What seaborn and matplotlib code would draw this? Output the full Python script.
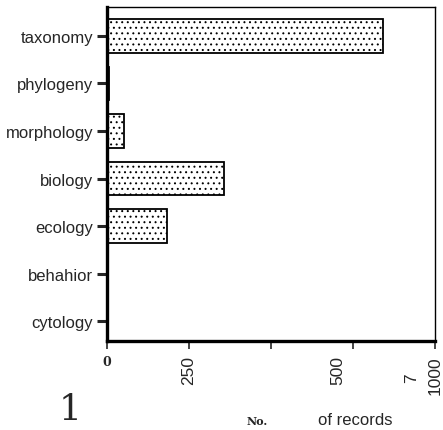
import matplotlib
matplotlib.use("Agg")
import matplotlib.pyplot as plt
import matplotlib.transforms as mtransforms
import seaborn as sns
import pandas as pd

categories = ["taxonomy", "phylogeny", "morphology", "biology", "ecology", "behahior", "cytology"]
records = [841, 6, 52, 357, 183, 0, 0]
x_ticks = [0, 250, 500, 750, 1000]
x_tick_labels = ["0", "250", "", "500", "1000"]

sns.set_style("white")
plt.rcParams["font.family"] = ["Liberation Sans", "DejaVu Sans"]
plt.rcParams["hatch.linewidth"] = 0.7

df = pd.DataFrame({"topic": categories, "records": records})

fig = plt.figure(figsize=(4.43, 4.31), dpi=100)
ax = fig.add_axes([107 / 443, 1 - 342 / 431, (435 - 107) / 443, (342 - 8) / 431])

sns.barplot(data=df, y="topic", x="records", orient="h", color="white",
            edgecolor="black", linewidth=1.3, width=0.7, ax=ax)
for p in ax.patches:
    p.set_hatch("...")
    p.set_facecolor("white")

ax.set_xlim(0, 1000)
ax.set_ylim(6.42, -0.61)
ax.set_xticks(x_ticks)
ax.set_xticklabels(x_tick_labels, rotation=90, fontsize=12.5)
ax.set_xlabel("")
ax.set_ylabel("")
ax.tick_params(axis="y", labelsize=12, length=7, width=2.2, direction="out", pad=3, left=True)
ax.tick_params(axis="x", length=6, width=1.2, direction="out", pad=4, bottom=True)

for side in ["left", "bottom"]:
    ax.spines[side].set_linewidth(2.4)
for side in ["top", "right"]:
    ax.spines[side].set_linewidth(1.0)
for s in ax.spines.values():
    s.set_color("black")

labels = ax.get_xticklabels()
labels[0].set_rotation(0)
labels[0].set_fontfamily("DejaVu Serif")
labels[0].set_fontweight("bold")
labels[0].set_fontsize(9)
labels[3].set_transform(labels[3].get_transform() + mtransforms.ScaledTranslation(-15 / 100, 0, fig.dpi_scale_trans))

fig.text(412 / 443, 1 - 378 / 431, "7", rotation=90, fontsize=12.5, ha="center", va="center")
fig.text(70 / 443, 1 - 410 / 431, "1", fontsize=26, family="DejaVu Serif", ha="center", va="center")
fig.text(257 / 443, 1 - 422 / 431, "No.", fontsize=8, family="DejaVu Serif", fontweight="bold", ha="center", va="center")
fig.text(355 / 443, 1 - 421 / 431, "of records", fontsize=12, ha="center", va="center")

fig.savefig("out.png", dpi=100)
